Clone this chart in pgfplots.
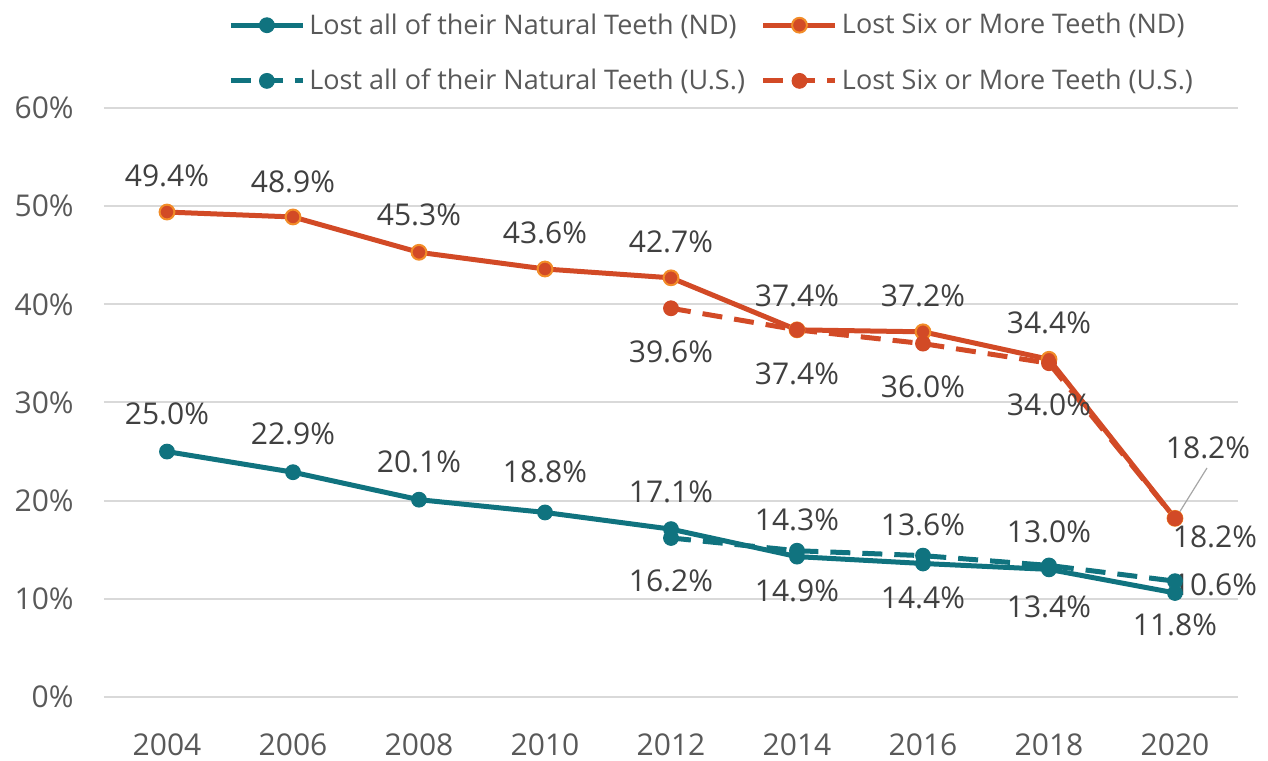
\documentclass[border=0pt]{standalone}
\usepackage{pgfplots}
\pgfplotsset{compat=1.18}
\usepackage{fontspec}
\setmainfont{Open Sans}
\definecolor{teal1}{HTML}{10737F}
\definecolor{org}{HTML}{D24A26}
\definecolor{orgedge}{HTML}{F28C28}
\definecolor{gridc}{HTML}{D9D9D9}
\definecolor{tickc}{HTML}{595959}
\definecolor{labc}{HTML}{404040}
\begin{document}
\begin{tikzpicture}
\useasboundingbox (-52pt,-31.5pt) rectangle (582pt,348.5pt);
\begin{axis}[
  at={(0,0)}, anchor=south west,
  scale only axis, width=567pt, height=294.5pt,
  xmin=-0.5, xmax=8.5, ymin=0, ymax=60,
  xtick={0,1,2,3,4,5,6,7,8},
  xticklabels={2004,2006,2008,2010,2012,2014,2016,2018,2020},
  ytick={0,10,20,30,40,50,60},
  yticklabel={\pgfmathprintnumber{\tick}\%},
  /pgf/number format/assume math mode=true,
  axis line style={draw=none},
  major tick length=0pt,
  ymajorgrids, grid style={gridc, line width=1pt},
  tick label style={font=\fontsize{15}{17}\selectfont, text=tickc, inner sep=1pt},
  yticklabel style={xshift=-14pt},
  xticklabel style={inner sep=0pt, text depth=0pt, yshift=-18pt},
  clip=false,
  legend columns=2,
  legend style={draw=none, fill=none, at={(62pt,344pt)}, anchor=north west,
    font=\fontsize{13.5}{16}\selectfont, text=tickc,
    /tikz/every even column/.append style={column sep=6pt},
    row sep=12pt, inner sep=0pt},
  legend cell align=left,
  legend image code/.code={
    \draw[mark repeat=2,mark phase=2,#1] plot coordinates {(0pt,0pt) (18pt,0pt) (36pt,0pt)};
  },
]
\addplot[teal1, line width=2.5pt, mark=*, mark size=3.7pt, mark options={solid, fill=teal1, draw=teal1, line width=0.5pt}]
  coordinates {(0,25.0) (1,22.9) (2,20.1) (3,18.8) (4,17.1) (5,14.3) (6,13.6) (7,13.0) (8,10.6)};
\addlegendentry{Lost all of their Natural Teeth (ND)}
\addplot[org, line width=2.5pt, mark=*, mark size=3.7pt, mark options={solid, fill=org, draw=orgedge, line width=1pt}]
  coordinates {(0,49.4) (1,48.9) (2,45.3) (3,43.6) (4,42.7) (5,37.4) (6,37.2) (7,34.4) (8,18.2)};
\addlegendentry{Lost Six or More Teeth (ND)}
\addplot[teal1, line width=2.5pt, dash pattern=on 10pt off 6pt, mark=*, mark size=3.7pt, mark options={solid, fill=teal1, draw=teal1, line width=0.5pt}]
  coordinates {(4,16.2) (5,14.9) (6,14.4) (7,13.4) (8,11.8)};
\addlegendentry{Lost all of their Natural Teeth (U.S.)}
\addplot[org, line width=2.5pt, dash pattern=on 10pt off 6pt, mark=*, mark size=3.7pt, mark options={solid, fill=org, draw=org, line width=0.5pt}]
  coordinates {(4,39.6) (5,37.4) (6,36.0) (7,34.0) (8,18.2)};
\addlegendentry{Lost Six or More Teeth (U.S.)}

\draw[gray!70, line width=0.6pt] (axis cs:8.254,23.33) -- (axis cs:8.02,18.5);
\begin{scope}[every node/.style={font=\fontsize{15}{17}\selectfont, text=labc, inner sep=0pt}]
\node at (axis cs:0,53.07) {49.4\%};
\node at (axis cs:1,52.46) {48.9\%};
\node at (axis cs:2,49.10) {45.3\%};
\node at (axis cs:3,47.27) {43.6\%};
\node at (axis cs:4,46.35) {42.7\%};
\node at (axis cs:5,40.85) {37.4\%};
\node at (axis cs:6,40.85) {37.2\%};
\node at (axis cs:7,38.10) {34.4\%};
\node at (axis cs:8.262,25.36) {18.2\%};
\node at (axis cs:4,35.14) {39.6\%};
\node at (axis cs:5,32.90) {37.4\%};
\node at (axis cs:6,31.58) {36.0\%};
\node at (axis cs:7,29.75) {34.0\%};
\node at (axis cs:8.317,16.30) {18.2\%};
\node at (axis cs:0,28.83) {25.0\%};
\node at (axis cs:1,26.79) {22.9\%};
\node at (axis cs:2,23.94) {20.1\%};
\node at (axis cs:3,22.92) {18.8\%};
\node at (axis cs:4,20.88) {17.1\%};
\node at (axis cs:5,18.03) {14.3\%};
\node at (axis cs:6,17.52) {13.6\%};
\node at (axis cs:7,16.81) {13.0\%};
\node at (axis cs:4,11.82) {16.2\%};
\node at (axis cs:5,10.80) {14.9\%};
\node at (axis cs:6,10.08) {14.4\%};
\node at (axis cs:7,9.17) {13.4\%};
\node at (axis cs:8,7.33) {11.8\%};
\node at (axis cs:8.317,11.41) {10.6\%};
\end{scope}
\end{axis}
\end{tikzpicture}
\end{document}
